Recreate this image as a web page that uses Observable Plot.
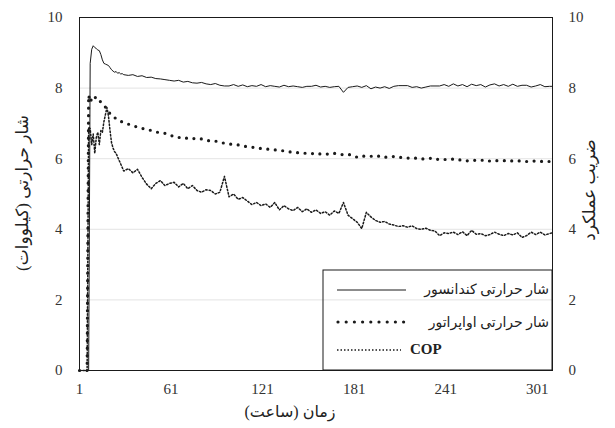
<!DOCTYPE html>
<html><head><meta charset="utf-8">
<script src="https://cdn.jsdelivr.net/npm/d3@7"></script>
<script src="https://cdn.jsdelivr.net/npm/@observablehq/plot@0.6"></script>
<style>
body{margin:0;background:#fff;}
#chart{position:relative;width:615px;height:428px;}
</style></head><body><div id="chart"></div>
<script>
const hours = [1,6,7,8,9,10,11,12,13,14,15,16,17,18,19,20,21,22,23,24,25,26,27,28,29,30,
33,36,39,42,45,48,51,54,57,60,
63,66,69,72,75,78,81,84,87,90,
93,96,99,102,105,108,111,114,117,120,
123,126,129,132,135,138,141,144,147,150,
153,156,159,162,165,168,171,174,177,180,
183,186,189,192,195,198,201,204,207,210,
213,216,219,222,225,228,231,234,237,240,
243,246,249,252,255,258,261,264,267,270,
273,276,279,282,285,288,291,294,297,300,
303,306,309,311];

const condenser = [0,0,0,8.7,9.1,9.2,9.15,9.12,9.08,9.06,8.95,8.8,8.7,8.68,8.66,8.64,8.58,8.52,8.48,8.45,8.47,8.42,8.44,8.4,8.41,8.38,
8.36,8.38,8.33,8.35,8.3,8.31,8.27,8.26,8.24,8.22,
8.2,8.22,8.17,8.19,8.15,8.14,8.16,8.12,8.1,8.13,
8.08,8.06,8.06,8.1,8.05,8.09,8.04,8.07,8.05,8.1,
8.04,8.07,8.05,8.03,8.08,8.04,8.06,8.04,8.02,8.05,
8.05,8.08,8.03,8.05,8.02,8.04,8.05,7.88,8.02,8.04,
8.06,8.02,8.07,7.98,8.03,8.0,8.04,7.99,8.05,8.07,
8.07,8.07,8.02,8.04,8.0,8.03,8.06,8.06,8.06,8.1,
8.05,8.12,8.06,8.1,8.04,8.11,8.07,8.1,8.03,8.09,
8.12,8.06,8.1,8.05,8.11,8.05,8.08,8.08,8.03,8.06,
8.1,8.04,8.05,8.05];

const evaporator = [0,0,7.8,7.6,7.7,7.65,7.72,7.75,7.73,7.66,7.6,7.56,7.5,7.46,7.42,7.35,7.27,7.22,7.2,7.16,7.14,7.12,7.08,7.06,7.04,7.02,
6.98,6.93,6.9,6.86,6.83,6.8,6.76,6.73,6.72,6.68,
6.62,6.6,6.61,6.57,6.58,6.55,6.56,6.52,6.5,6.5,
6.46,6.44,6.42,6.4,6.39,6.36,6.34,6.33,6.3,6.29,
6.28,6.26,6.25,6.24,6.22,6.2,6.18,6.17,6.16,6.15,
6.14,6.16,6.13,6.14,6.12,6.15,6.13,6.11,6.12,6.1,
6.04,6.08,6.06,6.07,6.05,6.08,6.04,6.05,6.06,6.03,
6.04,6.02,6.0,6.02,5.99,6.0,6.01,5.97,5.99,5.98,
5.97,5.99,5.96,5.97,5.94,5.96,5.95,5.95,5.97,5.93,
5.95,5.94,5.94,5.96,5.93,5.94,5.93,5.92,5.94,5.93,
5.92,5.93,5.92,5.92];

const cop = [0,0,6.9,6.85,6.4,6.7,6.15,6.6,6.75,6.4,6.8,6.75,7.05,7.25,7.45,7.2,6.8,6.45,6.3,6.2,6.15,6.05,5.95,5.85,5.75,5.65,
5.72,5.6,5.7,5.47,5.28,5.15,5.3,5.38,5.24,5.3,
5.33,5.2,5.3,5.15,5.24,5.1,5.05,5.12,5.1,5.0,
5.05,5.5,4.92,5.0,4.85,4.9,4.8,4.7,4.76,4.67,
4.72,4.62,4.76,4.55,4.67,4.58,4.53,4.62,4.5,4.58,
4.48,4.55,4.45,4.5,4.4,4.52,4.45,4.76,4.4,4.3,
4.2,4.02,4.48,4.35,4.25,4.2,4.22,4.15,4.12,4.08,
4.1,4.06,4.1,4.02,4.0,4.03,3.97,3.95,3.82,3.9,
3.88,3.92,3.85,3.93,3.82,3.97,3.86,3.88,3.82,3.85,
3.92,3.86,3.82,3.88,3.84,3.9,3.77,3.82,3.92,3.85,
3.92,3.84,3.88,3.9];

const xTicks = [1,61,121,181,241,301];
const yTicks = [0,2,4,6,8,10];
const gridTicks = [2,4,6,8];
const seriesNames = ["شار حرارتی کندانسور","شار حرارتی اواپراتور","COP"];
const yTitle = "شار حرارتی (کیلووات)";
const y2Title = "ضریب عملکرد";
const xTitle = "زمان (ساعت)";

const rows = vals => hours.map((h,i)=>({h, v: vals[i]}));

const W=615,H=428, ML=79, MR=63, MT=17, MB=58;
const serif = '"Liberation Serif","Times New Roman",serif';
const ink = "#1a1a1a";

const plot = Plot.plot({
  width:W, height:H, marginLeft:ML, marginRight:MR, marginTop:MT, marginBottom:MB,
  style:{fontFamily:serif, fontSize:"14px", color:"#333", background:"#fff", overflow:"visible"},
  x:{domain:[1,311], label:null},
  y:{domain:[0,10], label:null},
  marks:[
    Plot.gridY({ticks:gridTicks, stroke:"#dcdcdc", strokeOpacity:1, strokeWidth:0.8}),
    Plot.axisX({ticks:xTicks, tickSize:0, tickPadding:13, fontSize:15, fontFamily:serif, fill:"#333", label:null}),
    Plot.axisY({anchor:"left", ticks:yTicks, tickSize:0, tickPadding:17, fontSize:15, fontFamily:serif, fill:"#333", label:null}),
    Plot.axisY({anchor:"right", ticks:yTicks, tickSize:0, tickPadding:16, fontSize:15, fontFamily:serif, fill:"#333", label:null}),
    Plot.line(rows(cop), {x:"h", y:"v", stroke:ink, strokeWidth:1.5, strokeDasharray:"1.5,2"}),
    Plot.line(rows(evaporator), {x:"h", y:"v", stroke:ink, strokeWidth:3.2, strokeDasharray:"0,7.5", strokeLinecap:"round"}),
    Plot.line(rows(condenser), {x:"h", y:"v", stroke:ink, strokeWidth:1}),
    Plot.frame({stroke:ink, strokeWidth:1})
  ]
});
document.getElementById("chart").appendChild(plot);

const svg = d3.select(plot);
const arabicFont = '"Liberation Serif","DejaVu Sans",serif';
// axis titles
svg.append("text").attr("transform","translate(24,193) rotate(-90)")
  .attr("text-anchor","middle").attr("dominant-baseline","middle")
  .style("font-family",arabicFont).style("font-size","17px").attr("fill","#222").text(yTitle);
svg.append("text").attr("transform","translate(591,190) rotate(-90)")
  .attr("text-anchor","middle").attr("dominant-baseline","middle")
  .style("font-family",arabicFont).style("font-size","17px").attr("fill","#222").text(y2Title);
svg.append("text").attr("x",290).attr("y",413)
  .attr("text-anchor","middle").attr("dominant-baseline","middle")
  .style("font-family",arabicFont).style("font-size","16px").attr("fill","#222").text(xTitle);

// legend
const lg = svg.append("g");
lg.append("rect").attr("x",323).attr("y",270).attr("width",229).attr("height",100)
  .attr("fill","none").attr("stroke",ink).attr("stroke-width",1);
const ly = [290, 322, 350];
lg.append("line").attr("x1",337).attr("x2",406).attr("y1",ly[0]).attr("y2",ly[0]).attr("stroke",ink).attr("stroke-width",1);
lg.append("line").attr("x1",338).attr("x2",404).attr("y1",ly[1]).attr("y2",ly[1]).attr("stroke",ink)
  .attr("stroke-width",3.2).attr("stroke-dasharray","0,8.2").attr("stroke-linecap","round");
lg.append("line").attr("x1",337).attr("x2",401).attr("y1",ly[2]).attr("y2",ly[2]).attr("stroke",ink)
  .attr("stroke-width",1.5).attr("stroke-dasharray","1.5,2");
lg.append("text").attr("x",549).attr("y",ly[0]+1).attr("text-anchor","end").attr("dominant-baseline","middle")
  .style("font-family",arabicFont).style("font-size","14px").attr("fill","#222").text(seriesNames[0]);
lg.append("text").attr("x",549).attr("y",ly[1]+2).attr("text-anchor","end").attr("dominant-baseline","middle")
  .style("font-family",arabicFont).style("font-size","14px").attr("fill","#222").text(seriesNames[1]);
lg.append("text").attr("x",410).attr("y",ly[2]+1).attr("text-anchor","start").attr("dominant-baseline","middle")
  .style("font-family",serif).style("font-size","15px").style("font-weight","bold").attr("fill","#222").text(seriesNames[2]);
</script></body></html>
